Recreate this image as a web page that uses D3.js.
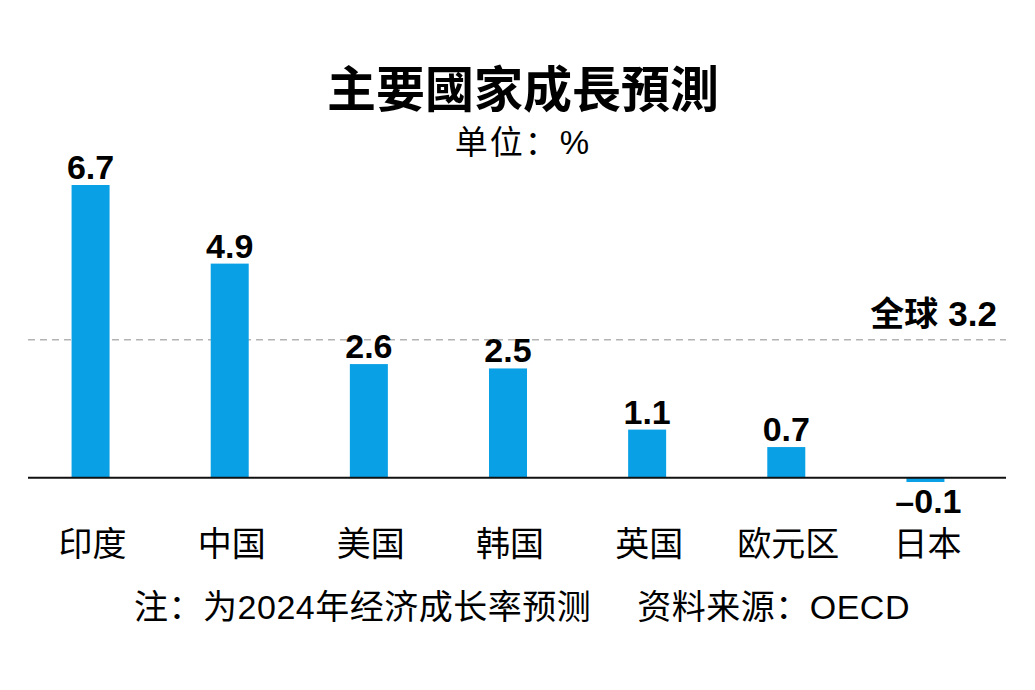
<!DOCTYPE html>
<html>
<head>
<meta charset="utf-8">
<script src="https://cdn.jsdelivr.net/npm/d3@7"></script>
<style>
  html, body { margin: 0; padding: 0; background: #fff; }
  svg { display: block; }
  .cjk { font-family: "Noto Sans CJK SC", "Noto Sans CJK TC", sans-serif; }
  .mix { font-family: "Liberation Sans", "Noto Sans CJK SC", sans-serif; }
  .num { font-family: "Liberation Sans", Arial, Helvetica, sans-serif; font-weight: bold; }
</style>
</head>
<body>
<svg id="chart" width="1035" height="690"></svg>
<script>
const categories = ["印度", "中国", "美国", "韩国", "英国", "欧元区", "日本"];
const values = [6.7, 4.9, 2.6, 2.5, 1.1, 0.7, -0.1];
const valueLabels = ["6.7", "4.9", "2.6", "2.5", "1.1", "0.7", "–0.1"];
const globalValue = 3.2;
const globalLabel = ["全球", "3.2"];
const titleText = "主要國家成長預測";
const subtitleText = "单位：%";
const noteText = "注：为2024年经济成长率预测";
const sourceText = "资料来源：OECD";

const W = 1035, H = 690;
const svg = d3.select("#chart");
const barColor = "#0aa0e6";

const x = d3.scalePoint().domain(categories).range([21, 995]).padding(0.5);
const y = d3.scaleLinear().domain([-0.1, 6.7]).range([482, 185]);
const barW = 38;

// Title
svg.append("text").attr("class", "cjk")
  .attr("x", 523).attr("y", 107)
  .attr("text-anchor", "middle")
  .attr("font-size", 49).attr("font-weight", 700)
  .attr("fill", "#000").text(titleText);

svg.append("text").attr("class", "mix")
  .attr("x", 523).attr("y", 154)
  .attr("text-anchor", "middle")
  .attr("font-size", 33).attr("font-weight", 400)
  .attr("letter-spacing", 2)
  .attr("fill", "#000").text(subtitleText);

// global reference line
svg.append("line")
  .attr("x1", 28).attr("x2", 1006)
  .attr("y1", y(globalValue) + 2).attr("y2", y(globalValue) + 2)
  .attr("stroke", "#b3b3b3").attr("stroke-width", 1.5)
  .attr("stroke-dasharray", "7,5");

const gl = svg.append("text")
  .attr("x", 997).attr("y", 326)
  .attr("text-anchor", "end").attr("fill", "#000");
gl.append("tspan").attr("class", "cjk").attr("font-weight", 700).attr("font-size", 34).text(globalLabel[0]);
gl.append("tspan").attr("class", "num").attr("font-size", 35).attr("dx", 10).text(globalLabel[1]);

// bars
svg.selectAll("rect.bar").data(values).join("rect")
  .attr("class", "bar")
  .attr("x", (d, i) => x(categories[i]) - barW / 2)
  .attr("width", barW)
  .attr("y", d => Math.min(y(d), y(0)))
  .attr("height", d => Math.abs(y(d) - y(0)))
  .attr("fill", barColor);

// baseline
svg.append("line")
  .attr("x1", 28).attr("x2", 1006)
  .attr("y1", y(0)).attr("y2", y(0))
  .attr("stroke", "#111").attr("stroke-width", 2);

// value labels
svg.selectAll("text.val").data(values).join("text")
  .attr("class", "val num")
  .attr("x", (d, i) => x(categories[i]) + (d < 0 ? 3 : 0))
  .attr("y", d => d >= 0 ? y(d) - 6 : y(0) + 35)
  .attr("text-anchor", "middle")
  .attr("font-size", 34)
  .attr("fill", "#000")
  .text((d, i) => valueLabels[i]);

// category labels
svg.selectAll("text.cat").data(categories).join("text")
  .attr("class", "cat cjk")
  .attr("x", d => x(d) + 2)
  .attr("y", 556)
  .attr("text-anchor", "middle")
  .attr("font-size", 34)
  .attr("fill", "#000")
  .text(d => d);

// footnote
const fn = svg.append("text").attr("class", "mix")
  .attr("x", 522).attr("y", 619)
  .attr("text-anchor", "middle")
  .attr("font-size", 34).attr("letter-spacing", 0.5).attr("fill", "#000");
fn.append("tspan").text(noteText);
fn.append("tspan").attr("dx", 46).text(sourceText);
</script>
</body>
</html>
